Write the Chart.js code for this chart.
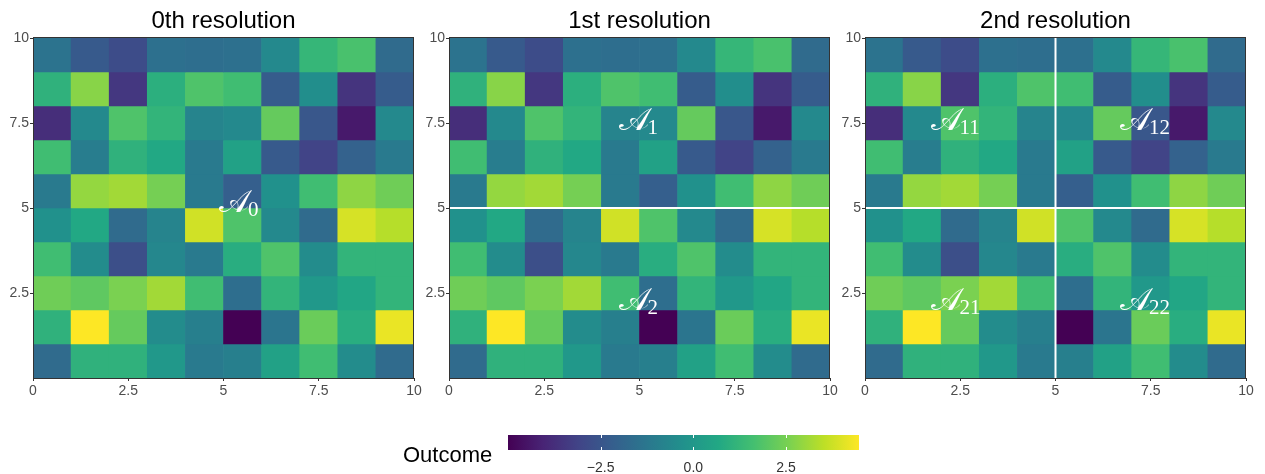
<!DOCTYPE html>
<html>
<head>
<meta charset="utf-8">
<script src="https://cdn.jsdelivr.net/npm/chart.js@4.4.1/dist/chart.umd.min.js"></script>
<style>
  body { margin: 0; background: #fff; width: 1265px; height: 474px; position: relative; overflow: hidden;
         font-family: "Liberation Sans", Arial, sans-serif; }
  canvas { position: absolute; }
  #legendTitle { position: absolute; left: 403px; top: 444px; font-size: 22px; line-height: 22px; color: #000; }
</style>
</head>
<body>
<canvas id="panel0" width="422" height="400" style="left:0px;top:0px"></canvas>
<canvas id="panel1" width="422" height="400" style="left:416px;top:0px"></canvas>
<canvas id="panel2" width="422" height="400" style="left:832px;top:0px"></canvas>
<canvas id="cbar" width="410" height="49" style="left:480px;top:425px"></canvas>
<div id="legendTitle">Outcome</div>

<script>
// cell centres of the 10 x 10 grid
const xCenters = [0.5, 1.5, 2.5, 3.5, 4.5, 5.5, 6.5, 7.5, 8.5, 9.5];
const yCenters = [9.5, 8.5, 7.5, 6.5, 5.5, 4.5, 3.5, 2.5, 1.5, 0.5]; // rows, top to bottom

// outcome per cell, one row per y centre (top row first)
const outcome = [
  [-1.40, -2.35, -2.82, -1.50, -1.59, -1.50, -0.55,  1.25,  1.72, -1.69],
  [ 1.06,  2.77, -3.48,  0.97,  1.82,  1.53, -2.25, -0.36, -3.58, -2.25],
  [-3.77, -0.55,  1.82,  1.16, -0.74, -0.55,  2.20, -2.44, -4.34, -0.55],
  [ 1.53, -1.02,  1.06,  0.68, -1.12,  0.40, -2.35, -3.11, -2.06, -1.12],
  [-1.12,  2.95,  3.14,  2.48, -1.12, -2.16, -0.27,  1.53,  2.86,  2.39],
  [-0.27,  0.68, -1.69, -0.74,  3.81,  1.82, -0.55, -1.69,  3.90,  3.43],
  [ 1.53, -0.45, -2.73, -0.64, -1.12,  0.87,  1.82, -0.45,  1.16,  1.16],
  [ 2.39,  2.10,  2.58,  3.14,  1.53, -1.59,  1.16,  0.02,  0.59,  1.16],
  [ 1.06,  4.47,  2.20, -0.45, -0.93, -5.00, -1.31,  2.29,  0.87,  4.19],
  [-1.69,  1.06,  1.06,  0.02, -1.12, -0.93,  0.40,  1.53, -0.45, -1.69]
];

const xTicks = [0, 2.5, 5, 7.5, 10];
const yTicks = [2.5, 5, 7.5, 10];
const legendTicks = [-2.5, 0, 2.5];

const panelTitles = ["0th resolution", "1st resolution", "2nd resolution"];

// partition lines of each resolution
const splitLines = [
  [],
  [[{ x: 0, y: 5 }, { x: 10, y: 5 }]],
  [[{ x: 0, y: 5 }, { x: 10, y: 5 }], [{ x: 5, y: 0 }, { x: 5, y: 10 }]]
];

// region names (left edge / baseline in data units)
const regionLabels = [
  [{ x: 4.88, y: 4.88, sub: "0" }],
  [{ x: 4.45, y: 7.3, sub: "1" }, { x: 4.45, y: 2.0, sub: "2" }],
  [{ x: 1.72, y: 7.3, sub: "11" }, { x: 6.69, y: 7.3, sub: "12" },
   { x: 1.72, y: 2.0, sub: "21" }, { x: 6.69, y: 2.0, sub: "22" }]
];

const allValues = outcome.flat();
const outcomeMin = Math.min(...allValues);
const outcomeMax = Math.max(...allValues);

// viridis
const viridisStops = ["#440154", "#482475", "#414487", "#355f8d", "#2a788e", "#21918c",
                      "#22a884", "#44bf70", "#7ad151", "#bddf26", "#fde725"];
function hexRgb(h) {
  return [parseInt(h.slice(1, 3), 16), parseInt(h.slice(3, 5), 16), parseInt(h.slice(5, 7), 16)];
}
function viridis(t) {
  t = Math.max(0, Math.min(1, t));
  const pos = t * (viridisStops.length - 1);
  const i = Math.min(Math.floor(pos), viridisStops.length - 2);
  const f = pos - i;
  const a = hexRgb(viridisStops[i]), b = hexRgb(viridisStops[i + 1]);
  const c = a.map((v, k) => Math.round(v + (b[k] - v) * f));
  return `rgb(${c[0]}, ${c[1]}, ${c[2]})`;
}
function colorFor(v) {
  return viridis((v - outcomeMin) / (outcomeMax - outcomeMin));
}

Chart.defaults.font.family = '"Liberation Sans", Arial, sans-serif';
Chart.defaults.animation = false;

// dark frame round the panel
const framePlugin = {
  id: "frame",
  afterDraw(chart) {
    const { ctx, chartArea: a } = chart;
    ctx.save();
    ctx.strokeStyle = "#333333";
    ctx.lineWidth = 1;
    ctx.strokeRect(Math.round(a.left) + 0.5, Math.round(a.top) - 0.5,
                   Math.round(a.right - a.left) - 1, Math.round(a.bottom - a.top) + 1);
    ctx.restore();
  }
};

// calligraphic A with subscript
const regionLabelPlugin = {
  id: "regionLabels",
  afterDatasetsDraw(chart, args, opts) {
    const { ctx, scales } = chart;
    ctx.save();
    ctx.fillStyle = "#ffffff";
    ctx.textAlign = "left";
    ctx.textBaseline = "alphabetic";
    (opts.items || []).forEach((l) => {
      const px = scales.x.getPixelForValue(l.x);
      const py = scales.y.getPixelForValue(l.y);
      ctx.font = '32px "DejaVu Serif", "DejaVu Sans", serif';
      ctx.fillText("\u{1D49C}", px, py);
      const w = ctx.measureText("\u{1D49C}").width;
      ctx.font = '21px "Liberation Serif", serif';
      ctx.fillText(l.sub, px + w - 1, py + 4);
    });
    ctx.restore();
  }
};

function drawPanel(canvasId, idx) {
  const datasets = yCenters.map((yc, r) => ({
    type: "bar",
    data: xCenters.map((xc) => ({ x: xc, y: [yc - 0.5, yc + 0.5] })),
    backgroundColor: outcome[r].map(colorFor),
    borderWidth: 0,
    barPercentage: 1,
    categoryPercentage: 1,
    grouped: false,
    order: 2
  }));
  splitLines[idx].forEach((seg) => {
    datasets.push({
      type: "line",
      data: seg,
      borderColor: "#ffffff",
      borderWidth: 2,
      pointRadius: 0,
      order: 0
    });
  });

  new Chart(document.getElementById(canvasId), {
    type: "bar",
    data: { datasets },
    options: {
      responsive: false,
      devicePixelRatio: 1,
      layout: { padding: { left: 0, right: 8, top: 0, bottom: 0 } },
      plugins: {
        legend: { display: false },
        tooltip: { enabled: false },
        title: {
          display: true,
          text: panelTitles[idx],
          fullSize: false,
          color: "#000000",
          font: { size: 24, weight: "normal" },
          padding: { top: 7, bottom: 2.2 }
        },
        regionLabels: { items: regionLabels[idx] }
      },
      scales: {
        x: {
          type: "linear",
          min: 0,
          max: 10,
          offset: false,
          afterBuildTicks: (s) => { s.ticks = xTicks.map((v) => ({ value: v })); },
          afterFit: (s) => { s.height = 22; s.paddingLeft = 0; s.paddingRight = 0; },
          ticks: {
            color: "#4D4D4D",
            font: { size: 14 },
            padding: 2,
            maxRotation: 0,
            callback: (v) => String(v)
          },
          grid: { offset: false, drawOnChartArea: false, drawTicks: true, tickLength: 3, tickColor: "#333333" },
          border: { display: false }
        },
        y: {
          type: "linear",
          min: 0,
          max: 10,
          afterBuildTicks: (s) => { s.ticks = yTicks.map((v) => ({ value: v })); },
          afterFit: (s) => { s.width = 33; s.paddingTop = 0; s.paddingBottom = 0; },
          ticks: {
            color: "#4D4D4D",
            font: { size: 14 },
            padding: 1,
            callback: (v) => String(v)
          },
          grid: { offset: false, drawOnChartArea: false, drawTicks: true, tickLength: 3, tickColor: "#333333" },
          border: { display: false }
        }
      }
    },
    plugins: [framePlugin, regionLabelPlugin]
  });
}

drawPanel("panel0", 0);
drawPanel("panel1", 1);
drawPanel("panel2", 2);

// colour bar
const colorbarPlugin = {
  id: "colorbar",
  beforeDatasetsDraw(chart) {
    const { ctx, chartArea: a, scales } = chart;
    const x0 = scales.x.getPixelForValue(outcomeMin);
    const x1 = scales.x.getPixelForValue(outcomeMax);
    const g = ctx.createLinearGradient(x0, 0, x1, 0);
    viridisStops.forEach((c, i) => g.addColorStop(i / (viridisStops.length - 1), c));
    ctx.save();
    ctx.fillStyle = g;
    ctx.fillRect(x0, a.top, x1 - x0, a.bottom - a.top);
    ctx.strokeStyle = "#ffffff";
    ctx.lineWidth = 1;
    legendTicks.forEach((v) => {
      const px = Math.round(scales.x.getPixelForValue(v)) + 0.5;
      ctx.beginPath();
      ctx.moveTo(px, a.top); ctx.lineTo(px, a.top + 3);
      ctx.moveTo(px, a.bottom - 3); ctx.lineTo(px, a.bottom);
      ctx.stroke();
    });
    ctx.restore();
  }
};

new Chart(document.getElementById("cbar"), {
  type: "scatter",
  data: { datasets: [{ data: [] }] },
  options: {
    responsive: false,
    devicePixelRatio: 1,
    layout: { padding: { left: 28, right: 31, top: 10, bottom: 0 } },
    plugins: { legend: { display: false }, tooltip: { enabled: false } },
    scales: {
      x: {
        type: "linear",
        min: outcomeMin,
        max: outcomeMax,
        afterBuildTicks: (s) => { s.ticks = legendTicks.map((v) => ({ value: v })); },
        afterFit: (s) => { s.height = 24; s.paddingLeft = 0; s.paddingRight = 0; },
        ticks: {
          color: "#333333",
          font: { size: 14 },
          padding: 10,
          maxRotation: 0,
          callback: (v) => v.toFixed(1).replace("-", "\u2212")
        },
        grid: { display: false, drawTicks: false },
        border: { display: false }
      },
      y: { display: false, min: 0, max: 1 }
    }
  },
  plugins: [colorbarPlugin]
});
</script>
</body>
</html>
